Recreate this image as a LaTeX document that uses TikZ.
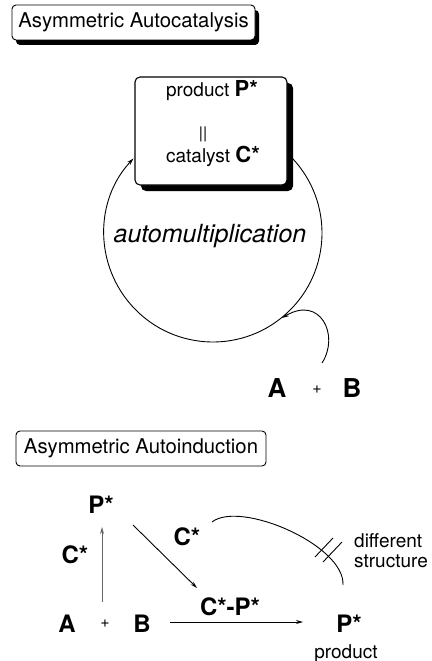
\documentclass[tikz,border=0pt]{standalone}
\usepackage{fontspec}
\setmainfont{TeX Gyre Heros}
\usetikzlibrary{arrows.meta,shadows}
\begin{document}
\begin{tikzpicture}[x=1pt,y=-1pt,
  titlebox/.style={draw, line width=0.9pt, rounded corners=4pt, fill=white,
    minimum height=35pt, inner sep=0pt, font=\fontsize{20.3}{22}\selectfont},
  shadowA/.style={drop shadow={shadow xshift=4pt, shadow yshift=-5pt, fill=black, opacity=1}},
  shadowB/.style={drop shadow={shadow xshift=6pt, shadow yshift=-6pt, fill=black, opacity=1}},
  mainbox/.style={draw, line width=1.1pt, rounded corners=5pt, fill=white,
    minimum width=152pt, minimum height=108pt, inner sep=0pt},
  txt/.style={anchor=base, inner sep=0pt, font=\fontsize{19}{21}\selectfont},
  lab/.style={anchor=base, inner sep=0pt, font=\fontsize{24}{26}\selectfont\bfseries},
  labbig/.style={anchor=base, inner sep=0pt, font=\fontsize{26}{28}\selectfont\bfseries},
  plus/.style={inner sep=0pt, font=\fontsize{16}{18}\selectfont},
  conn/.style={line width=0.9pt, -{Stealth[length=7pt,width=4pt]}},
  plain/.style={line width=0.9pt}
]
\useasboundingbox (0,0) rectangle (431,661);

% ---------- Title 1 ----------
\node[titlebox, shadowA, minimum width=243pt] (t1) at (133.5,22.5) {Asymmetric Autocatalysis};

% ---------- Main box ----------
\node[mainbox, shadowB] (box) at (211,131) {};
\node[txt] (l1) at (212,96) {product {\fontsize{22}{24}\selectfont\bfseries P*}};
\node[inner sep=0pt, font=\fontsize{16}{18}\selectfont] (eq) at (203,134) {||};
\node[txt] (l3) at (213,162) {catalyst {\fontsize{22}{24}\selectfont\bfseries C*}};

% ---------- circle ----------
\coordinate (cc) at (213,233);
\draw[conn] (cc) ++(-43.5:109) arc[start angle=-43.5, end angle=223.2, radius=109];
\node[anchor=base, inner sep=0pt, font=\fontsize{25}{27}\selectfont\itshape] (auto) at (210,242) {automultiplication};

% ---------- A + B (top) ----------
\node[labbig] (A1) at (277,397) {A};
\node[plus] (p1) at (317,390) {+};
\node[labbig] (B1) at (352,397) {B};
\coordinate (ab1) at (322,363);
\coordinate (ab2) at (282,318);
\draw[conn] (ab1) .. controls (340,335) and (320,295) .. (ab2);

% ---------- Title 2 ----------
\node[titlebox, minimum width=250pt] (t2) at (141,448.5) {Asymmetric Autoinduction};

% ---------- lower scheme ----------
\node[lab] (Ptop) at (101,513) {P*};
\node[lab] (Cl) at (75,563) {C*};
\node[lab] (Cm) at (187,545) {C*};
\node[lab] (CP) at (230,615) {C*-P*};
\node[lab] (A2) at (67,632) {A};
\node[plus] (p2) at (105,624) {+};
\node[lab] (B2) at (142,632) {B};
\node[lab] (P2) at (349,632) {P*};
\node[txt] (prod) at (346,658) {product};
\node[txt, anchor=base west] (diff) at (354,547) {different};
\node[txt, anchor=base west] (struc) at (354,567) {structure};

\coordinate (v1) at (102,602);
\coordinate (v2) at (102,527);
\draw[conn, black!60] (v1) -- (v2);

\coordinate (d1) at (133,525);
\coordinate (d2) at (197,588);
\draw[conn] (d1) -- (d2);

\coordinate (h1) at (170,622);
\coordinate (h2) at (303,622);
\draw[conn] (h1) -- (h2);

\coordinate (c1) at (212,522);
\coordinate (c2) at (343,585);
\draw[plain] (c1) .. controls (240,500) and (345,545) .. (c2);

\coordinate (k1a) at (315,557);
\coordinate (k1b) at (333,538);
\coordinate (k2a) at (323,562);
\coordinate (k2b) at (342,542);
\draw[plain] (k1a) -- (k1b);
\draw[plain] (k2a) -- (k2b);
\end{tikzpicture}
\end{document}
